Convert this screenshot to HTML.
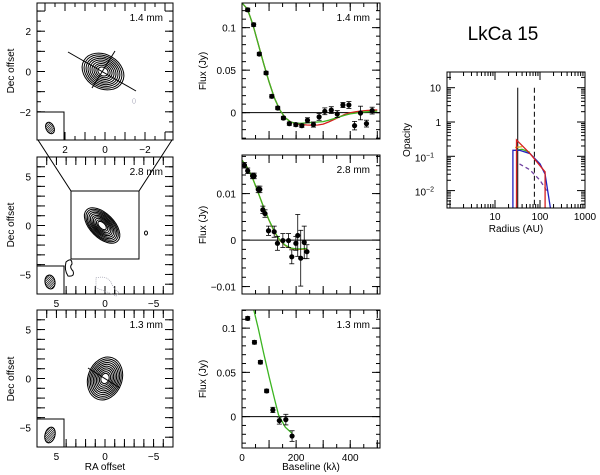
<!DOCTYPE html>
<html><head><meta charset="utf-8"><style>
body{margin:0;background:#fff;}
svg{display:block;font-family:"Liberation Sans",sans-serif;}
text{fill:#000;font-size:10px;}
</style></head><body>
<svg id="fig" width="600" height="475" viewBox="0 0 600 475" xmlns="http://www.w3.org/2000/svg">
<text x="503" y="40" text-anchor="middle" style="font-size:19px">LkCa 15</text>
</svg>
<script>
// ---- data: 1.4 mm visibilities ----
const b14 = [21,43,64,89,110,132,153,175,199,221,242,264,285,306,330,352,373,395,416,438,460,481];
const f14 = [0.121,0.1035,0.069,0.0467,0.0192,0.0055,-0.0063,-0.0129,-0.0141,-0.0153,-0.009,-0.014,-0.005,0.0016,0.003,-0.0016,0.009,0.009,-0.0153,-0.0004,-0.0129,0.0024];
const e14 = [0.002,0.002,0.002,0.002,0.002,0.002,0.002,0.002,0.002,0.002,0.003,0.003,0.004,0.004,0.004,0.004,0.003,0.004,0.005,0.008,0.004,0.004];
const mb14 = [0,20,40,60,80,100,120,140,160,180,200,220,240,260,280,300,320,340,360,380,400,420,440,460,480,500];
const green14 = [0.133,0.122,0.104,0.081,0.058,0.036,0.017,0.003,-0.006,-0.011,-0.0125,-0.0125,-0.012,-0.0115,-0.011,-0.0105,-0.009,-0.007,-0.005,-0.003,-0.0015,-0.0005,0.0005,0.001,0.0015,0.0018];
const red14 = [0.133,0.122,0.104,0.081,0.058,0.036,0.017,0.003,-0.006,-0.011,-0.013,-0.014,-0.0145,-0.0148,-0.0145,-0.0135,-0.011,-0.008,-0.005,-0.002,0.0,0.001,0.002,0.0025,0.003,0.0032];
// ---- data: 2.8 mm ----
const b28 = [9,21,39,45,60,66,77,85,98,119,131,151,172,184,199,206,217,230,240];
const f28 = [0.0161,0.0149,0.0138,0.0138,0.0109,0.0109,0.0065,0.0057,0.002,0.0018,-0.0007,-0.0001,-0.0001,-0.0036,-0.0007,0.001,-0.0039,-0.0005,-0.0025];
const e28 = [0.0006,0.0006,0.0006,0.0006,0.0007,0.0007,0.0008,0.0008,0.001,0.0012,0.0015,0.0015,0.0015,0.0015,0.0015,0.0045,0.006,0.0035,0.0015];
const mb28 = [0,20,40,60,80,100,120,140,160,180,200,220,240];
const green28 = [0.0172,0.0156,0.0132,0.0102,0.0071,0.0043,0.0018,0.0,-0.0011,-0.0017,-0.0019,-0.0019,-0.0018];
const red28 = [0.0172,0.0156,0.0132,0.0102,0.0071,0.0042,0.0017,-0.0001,-0.0012,-0.0018,-0.002,-0.002,-0.0019];
// ---- data: 1.3 mm ----
const b13 = [21,46,68,91,114,138,162,185];
const f13 = [0.111,0.084,0.0615,0.029,0.0075,-0.0045,-0.0034,-0.022];
const e13 = [0.002,0.002,0.002,0.002,0.003,0.004,0.006,0.006];
const mb13 = [44,60,80,100,120,135,160,185];
const green13 = [0.12,0.1,0.072,0.045,0.02,0.002,-0.012,-0.019];
// ---- data: opacity profiles ----
const rBlue = [25,25,35,60,100,130,170];
const oBlue = [0.003,0.15,0.15,0.12,0.06,0.03,0.003];
const rRed = [30,30,60,130,130];
const oRed = [0.003,0.3,0.12,0.035,0.003];
const rDash = [35,60,100,140];
const oDash = [0.06,0.04,0.02,0.01];
const rGreen = [28,40,60];
const oGreen = [0.15,0.16,0.13];
const rYel = [28,40];
const oYel = [0.18,0.19];
const innerR = 32, outerR = 75;

const svg = document.getElementById('fig');
const NS = 'http://www.w3.org/2000/svg';
function mk(tag, attrs, parent){const e=document.createElementNS(NS,tag);for(const k in attrs)e.setAttribute(k,attrs[k]);(parent||svg).appendChild(e);return e;}
function txt(x,y,s,anchor,rot){const t=mk('text',{x:x,y:y,'text-anchor':anchor||'middle'});if(rot)t.setAttribute('transform','rotate(-90 '+x+' '+y+')');t.textContent=s;return t;}
function lin(d0,d1,p0,p1){return v=>p0+(v-d0)*(p1-p0)/(d1-d0);}

function frame(x0,y0,x1,y1,name){
  const r=mk('rect',{x:x0,y:y0,width:x1-x0,height:y1-y0,fill:'none',stroke:'#000','stroke-width':1});
  
  
}
function ticksX(sx,vals,y0,y1,len){vals.forEach(v=>{const x=sx(v);mk('line',{x1:x,y1:y1,x2:x,y2:y1-len,stroke:'#000'});mk('line',{x1:x,y1:y0,x2:x,y2:y0+len,stroke:'#000'});});}
function ticksY(sy,vals,x0,x1,len){vals.forEach(v=>{const y=sy(v);mk('line',{x1:x0,y1:y,x2:x0+len,y2:y,stroke:'#000'});mk('line',{x1:x1,y1:y,x2:x1-len,y2:y,stroke:'#000'});});}
function range(a,b,s){const o=[];for(let v=a;v<=b+1e-9;v+=s)o.push(+v.toFixed(6));return o;}
function fmt(v){return v<0?'\u2212'+(-v):''+v;}
const defs=mk('defs',{});
let clipId=0;

// ================= MAP PANELS =================
function mapPanel(y0,lim,minor,major,labels,label,contours,beam,name){
  const x0=37,x1=173,y1=y0+137;
  const g=mk('g',{});
  
  
  const sx=lin(lim,-lim,x0,x1), sy=lin(lim,-lim,y0,y1);
  ticksX(sx,range(-Math.floor(lim/minor)*minor,Math.floor(lim/minor)*minor,minor),y0,y1,4);
  ticksY(sy,range(-Math.floor(lim/minor)*minor,Math.floor(lim/minor)*minor,minor),x0,x1,4);
  ticksX(sx,range(-Math.floor(lim/major)*major,Math.floor(lim/major)*major,major),y0,y1,8);
  ticksY(sy,range(-Math.floor(lim/major)*major,Math.floor(lim/major)*major,major),x0,x1,8);
  labels.forEach(v=>{txt(sx(v),y1+13,fmt(v));txt(31,sy(v)+4,fmt(v),'end');});
  txt(163,y0+18,label,'end');
  const cx=sx(contours.cx), cy=sy(contours.cy);
  const cg=mk('g',{transform:'translate('+cx.toFixed(1)+' '+cy.toFixed(1)+') rotate('+contours.ang+')'});
  
  
  for(let i=0;i<contours.n;i++){const f=1-0.85*i/contours.n;
    mk('ellipse',{cx:0,cy:0,rx:(contours.rx*f).toFixed(1),ry:(contours.ry*f).toFixed(1),fill:'none',stroke:'#000','stroke-width':1},cg);}
  // beam
  mk('rect',{x:x0,y:y1-28,width:27,height:28,fill:'#fff',stroke:'#000'});
  const bx=x0+13,by=y1-12;
  const cid='bc'+(clipId++);
  const cp=mk('clipPath',{id:cid},defs);
  mk('ellipse',{cx:bx,cy:by,rx:beam[0],ry:beam[1],transform:'rotate('+beam[2]+' '+bx+' '+by+')'},cp);
  mk('ellipse',{cx:bx,cy:by,rx:beam[0],ry:beam[1],fill:'#fff',stroke:'#000',transform:'rotate('+beam[2]+' '+bx+' '+by+')'});
  const hg=mk('g',{'clip-path':'url(#'+cid+')'});
  for(let k=-14;k<=14;k+=2.2){mk('line',{x1:bx-10+k,y1:by+10,x2:bx+10+k,y2:by-10,stroke:'#000','stroke-width':0.7},hg);}
  frame(x0,y0,x1,y1,name+'-frame');
  return {sx,sy};
}
const p1=mapPanel(3,3.4,0.5,1,[2,0,-2],'1.4 mm',{cx:0.1,cy:0,rx:22,ry:17,ang:30,n:9},[4,6,-25],'map-1-4mm');
mk('line',{x1:68,y1:52,x2:136,y2:91,stroke:'#000'});
mk('line',{x1:115,y1:51,x2:92,y2:88,stroke:'#000'});
mk('ellipse',{cx:134,cy:101,rx:1.5,ry:2.5,fill:'none',stroke:'#aab','stroke-width':0.6});
const p2=mapPanel(157,7,1,1,[5,0,-5],'2.8 mm',{cx:0.3,cy:0,rx:22,ry:12,ang:45,n:10},[5,7,-10],'map-2-8mm');
mk('path',{d:'M38 140 L71 191 L139 191 L172 140',fill:'none',stroke:'#000'});
mk('rect',{x:71,y:191,width:68,height:68,fill:'none',stroke:'#000'});
mk('path',{d:'M66 262 q6 -5 6 2 q-3 3 1 7 q2 6 -5 5 q-4 -6 -2 -14z',fill:'#fff',stroke:'#000'});
mk('path',{d:'M96 278 q10 -3 15 4 q3 8 8 10 l-3 4 q-8 -4 -20 -8z',fill:'none',stroke:'#99a','stroke-dasharray':'1,1','stroke-width':0.7});
mk('ellipse',{cx:146,cy:233,rx:1.5,ry:2,fill:'none',stroke:'#000'});
const p3=mapPanel(310,7,1,1,[5,0,-5],'1.3 mm',{cx:0,cy:0,rx:17,ry:22,ang:20,n:10},[5,8,15],'map-1-3mm');
mk('line',{x1:88,y1:368,x2:120,y2:388,stroke:'#000'});
txt(14,71,'Dec offset','middle',true);
txt(14,225,'Dec offset','middle',true);
txt(14,379,'Dec offset','middle',true);
txt(105,470,'RA offset');

// ================= VISIBILITY PANELS =================
function visPanel(y0,y1,ymin,ymax,minorY,majorY,labY,label,b,f,e,mb,curves,name,xlab){
  const x0=242,x1=380;
  const g=mk('g',{});
  
  
  const sx=lin(0,510,x0,x1), sy=lin(ymin,ymax,y1,y0);
  ticksX(sx,range(0,500,50),y0,y1,4);ticksX(sx,[0,100,200,300,400,500],y0,y1,8);
  ticksY(sy,range(Math.ceil(ymin/minorY)*minorY,ymax,minorY),x0,x1,4);
  ticksY(sy,labY,x0,x1,8);
  labY.forEach(v=>txt(236,sy(v)+4,fmt(v),'end'));
  if(xlab)[0,200,400].forEach(v=>txt(sx(v),y1+13,''+v));
  mk('line',{x1:x0,y1:sy(0),x2:x1,y2:sy(0),stroke:'#000'});
  txt(370,y0+18,label,'end');
  curves.forEach(c=>{
    const pts=mb.map((v,i)=>sx(v).toFixed(1)+','+Math.max(y0,sy(c.v[i])).toFixed(1)).join(' ');
    const pl=mk('polyline',{points:pts,fill:'none',stroke:c.col,'stroke-width':1.3});
    
    
  });
  b.forEach((v,i)=>{
    const x=sx(v),y=sy(f[i]),ya=sy(f[i]+e[i]),yb=sy(f[i]-e[i]);
    mk('line',{x1:x,y1:ya,x2:x,y2:yb,stroke:'#000','stroke-width':0.8});
    mk('line',{x1:x-2.5,y1:ya,x2:x+2.5,y2:ya,stroke:'#000','stroke-width':0.8});
    mk('line',{x1:x-2.5,y1:yb,x2:x+2.5,y2:yb,stroke:'#000','stroke-width':0.8});
    const c=mk('circle',{cx:x,cy:y,r:2.6,fill:'#000'});
    
    
  });
  frame(x0,y0,x1,y1,name+'-frame');
}
visPanel(3,139,-0.031,0.129,0.01,0.05,[0.1,0.05,0],'1.4 mm',b14,f14,e14,mb14,[{v:red14,col:'#d62020',name:'model-red-1-4mm'},{v:green14,col:'#3cb521',name:'model-green-1-4mm'}],'visibility-1-4mm',false);
visPanel(155,294,-0.0116,0.0183,0.002,0.01,[0.01,0,-0.01],'2.8 mm',b28,f28,e28,mb28,[{v:red28,col:'#e07020',name:'model-red-2-8mm'},{v:green28,col:'#3cb521',name:'model-green-2-8mm'}],'visibility-2-8mm',false);
visPanel(310,448,-0.0355,0.1205,0.01,0.05,[0.1,0.05,0],'1.3 mm',b13,f13,e13,mb13,[{v:green13,col:'#3cb521',name:'model-green-1-3mm'}],'visibility-1-3mm',true);
txt(206,71,'Flux (Jy)','middle',true);
txt(206,225,'Flux (Jy)','middle',true);
txt(206,379,'Flux (Jy)','middle',true);
txt(311,470,'Baseline (k\u03bb)');

// ================= OPACITY PANEL =================
(function(){
  const x0=447,x1=585,y0=72,y1=208;
  const g=mk('g',{});
  
  
  const lx=r=>495+(Math.log10(r)-1)*45;
  const ly=o=>122-Math.log10(o)*34.3;
  for(let d=0;d<3;d++)for(let m=1;m<10;m++){const v=m*Math.pow(10,d);const x=lx(v);if(x<x0||x>x1)continue;const L=m==1?8:4;
    mk('line',{x1:x,y1:y1,x2:x,y2:y1-L,stroke:'#000'});mk('line',{x1:x,y1:y0,x2:x,y2:y0+L,stroke:'#000'});}
  for(let d=-3;d<2;d++)for(let m=1;m<10;m++){const v=m*Math.pow(10,d);const y=ly(v);if(y<y0||y>y1)continue;const L=m==1?8:4;
    mk('line',{x1:x0,y1:y,x2:x0+L,y2:y,stroke:'#000'});mk('line',{x1:x1,y1:y,x2:x1-L,y2:y,stroke:'#000'});}
  [[10,'10'],[100,'100'],[1000,'1000']].forEach(a=>txt(lx(a[0]),y1+12,a[1]));
  txt(441,ly(10)+4,'10','end');txt(441,ly(1)+4,'1','end');
  const t1=txt(434,ly(0.1)+5,'10','end');const s1=mk('tspan',{dy:-4,style:'font-size:7px'},t1);s1.textContent='\u22121';
  const t2=txt(434,ly(0.01)+5,'10','end');const s2=mk('tspan',{dy:-4,style:'font-size:7px'},t2);s2.textContent='\u22122';
  txt(410,140,'Opacity','middle',true);
  txt(516,232,'Radius (AU)');
  const cl=v=>Math.min(y1,ly(v));
  function pl(rs,os,col,dash,name){const p=mk('polyline',{points:rs.map((r,i)=>lx(r).toFixed(1)+','+cl(os[i]).toFixed(1)).join(' '),fill:'none',stroke:col,'stroke-width':1.3});if(dash)p.setAttribute('stroke-dasharray',dash);
    }
  mk('line',{x1:lx(innerR),y1:ly(10),x2:lx(innerR),y2:y1,stroke:'#000'});
  mk('line',{x1:lx(outerR),y1:ly(10),x2:lx(outerR),y2:y1,stroke:'#000','stroke-dasharray':'5,3'});
  pl(rDash,oDash,'#7040a0','4,3','opacity-dashed');
  pl(rGreen,oGreen,'#3cb521',null,'opacity-green');
  pl(rYel,oYel,'#e0b020',null,'opacity-yellow');
  pl(rBlue,oBlue,'#2020c0',null,'opacity-blue');
  pl(rRed,oRed,'#d62020',null,'opacity-red');
  frame(x0,y0,x1,y1,'opacity-frame');
})();
</script>
</body></html>
